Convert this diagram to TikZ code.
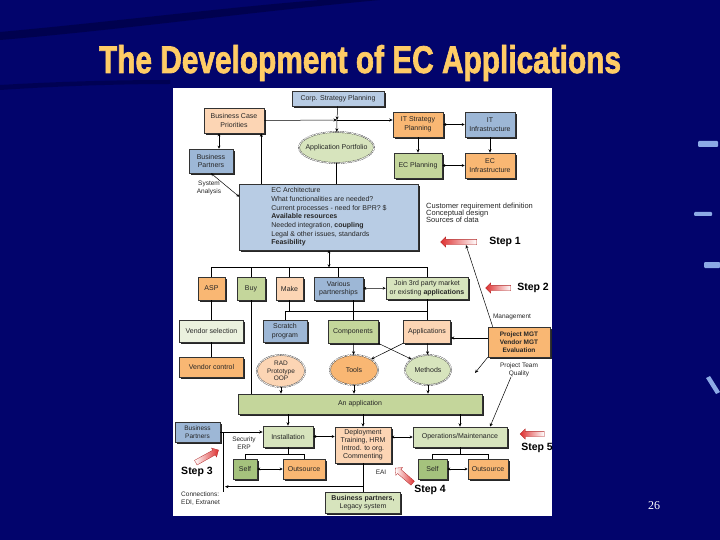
\documentclass[tikz,border=0pt]{standalone}
\usepackage{fontspec}
\setmainfont{Liberation Sans}
\newfontfamily\titlefont[BoldFeatures={FakeBold=2}]{Liberation Sans}
\newfontfamily\numfont{Liberation Serif}
\usetikzlibrary{shapes.geometric,shapes.arrows,shadows,arrows.meta}

\definecolor{slidenavy}{RGB}{2,4,108}
\definecolor{slidedark}{RGB}{0,0,60}
\definecolor{titlegold}{RGB}{255,204,102}
\definecolor{barblue}{RGB}{140,170,230}
\definecolor{boxgrey}{RGB}{184,204,228}
\definecolor{boxblue}{RGB}{157,183,214}
\definecolor{boxorange}{RGB}{249,183,115}
\definecolor{boxpeach}{RGB}{252,213,180}
\definecolor{boxgreen}{RGB}{196,214,155}
\definecolor{boxpale}{RGB}{215,228,189}
\definecolor{boxmint}{RGB}{235,241,222}
\definecolor{boxself}{RGB}{165,194,125}
\definecolor{stepred}{RGB}{222,48,48}

\begin{document}
\begin{tikzpicture}[x=1pt,y=-1pt,
    every node/.style={font=\fontsize{7}{8.5}\selectfont,text=black!85},
    box/.style={draw=black!80,line width=0.6pt,align=center,inner sep=1pt,
      drop shadow={shadow xshift=1.7pt,shadow yshift=-1.7pt,fill=black!85,opacity=1}},
    oval/.style={ellipse,draw=black!80,line width=0.4pt,double distance=0.8pt,
      dash pattern=on 1.6pt off 0.8pt,align=center,inner sep=0pt},
    link/.style={-{Stealth[length=3.5pt,width=3pt]},line width=0.5pt},
    both/.style={{Stealth[length=3pt,width=3pt]}-{Stealth[length=3pt,width=3pt]},line width=0.5pt},
    note/.style={font=\fontsize{6.5}{7.5}\selectfont,align=center,inner sep=0pt},
    steptext/.style={font=\fontsize{10.5}{12}\bfseries\selectfont,text=black,inner sep=0pt},
    steparrow/.style={single arrow,draw=stepred!80!black,line width=0.3pt,
      minimum height=#1,minimum width=0pt,single arrow head extend=2.5pt,inner sep=2.5pt}]

% slide
\fill[slidenavy] (0,0) rectangle (720,540);
\fill[slidedark,opacity=0.6] (0,40) .. controls (120,30) and (250,12) .. (380,0)
  -- (320,0) .. controls (220,8) and (110,22) .. (0,32) -- cycle;
\fill[slidedark,opacity=0.5] (0,90) .. controls (60,86) and (120,84) .. (170,84)
  -- (170,80) .. controls (110,80) and (50,82) .. (0,85) -- cycle;
\fill[barblue,rounded corners=1pt] (698,141) rectangle (718,147);
\fill[barblue,rounded corners=1pt] (694,212) rectangle (712,216);
\fill[barblue,rounded corners=1pt] (704,262) rectangle (720,268);
\fill[barblue] (706,378) -- (710,376) -- (720,392) -- (716,394) -- cycle;
\node[anchor=base,text=titlegold,inner sep=0pt] (title) at (360,73)
  {\resizebox{522pt}{28pt}{\titlefont\bfseries The Development of EC Applications}};
\node[text=white,font=\numfont\fontsize{12}{14}\selectfont] (pageno) at (654,506) {26};
\fill[white] (173,88) rectangle (552,516);

% planning
\node[box,fill=boxgrey,minimum width=92,minimum height=15] (corp) at (338,98.5) {Corp. Strategy Planning};
\node[box,fill=boxpeach,minimum width=60,minimum height=25] (bcp) at (234,120.5) {Business Case\\Priorities};
\node[box,fill=boxorange,minimum width=50,minimum height=25] (itsp) at (418,124.5) {IT Strategy\\Planning};
\node[box,fill=boxblue,minimum width=50,minimum height=25] (itinf) at (490,124.5) {IT\\Infrastructure};
\node[oval,fill=boxpale,minimum width=75,minimum height=31] (portf) at (336.5,147.5) {\makebox[0pt]{Application Portfolio}};
\node[box,fill=boxblue,minimum width=44,minimum height=24] (bpt) at (211,161) {Business\\Partners};
\node[box,fill=boxgreen,minimum width=48,minimum height=25] (ecplan) at (418,165.5) {EC Planning};
\node[box,fill=boxorange,minimum width=50,minimum height=25] (ecinf) at (490,165.5) {EC\\Infrastructure};
\node[box,fill=boxgrey,minimum width=179,minimum height=66,align=left,font=\fontsize{7}{8.7}\selectfont] (ecarch) at (329,217)
  {EC Architecture\\What functionalities are needed?\\Current processes - need for BPR? \$\\
   \textbf{Available resources}\\Needed integration, \textbf{coupling}\\Legal \& other issues, standards\\\textbf{Feasibility}};
\coordinate (j1) at (337,120);
\coordinate (creq) at (466,245);
\coordinate (pfree) at (475,373);

% sourcing options
\node[box,fill=boxorange,minimum width=27,minimum height=23] (asp) at (211.5,288.5) {ASP};
\node[box,fill=boxgreen,minimum width=28,minimum height=23] (buy) at (251,288.5) {Buy};
\node[box,fill=boxpeach,minimum width=27,minimum height=23] (make) at (289.5,288.5) {Make};
\node[box,fill=boxblue,minimum width=49,minimum height=23] (various) at (338.5,288.5) {Various\\partnerships};
\node[box,fill=boxpale,minimum width=82,minimum height=22] (join) at (427,288) {Join 3rd party market\\or existing \textbf{applications}};
\node[box,fill=boxmint,minimum width=64,minimum height=22] (vsel) at (211.5,331) {Vendor selection};
\node[box,fill=boxblue,minimum width=44,minimum height=22] (scratch) at (285,331) {Scratch\\program};
\node[box,fill=boxgreen,minimum width=50,minimum height=23] (comp) at (353,331.5) {Components};
\node[box,fill=boxpeach,minimum width=47,minimum height=23] (appl) at (427,331.5) {Applications};
\node[box,fill=boxorange,minimum width=62,minimum height=30,font=\fontsize{6.5}{8}\bfseries\selectfont] (pmgt) at (519,342) {Project MGT\\Vendor MGT\\Evaluation};
\node[box,fill=boxorange,minimum width=64,minimum height=20] (vctl) at (211.5,367) {Vendor control};
\node[oval,fill=boxpeach,minimum width=48,minimum height=32,font=\fontsize{6.5}{7.3}\selectfont] (rad) at (281,371) {RAD\\Prototype\\OOP};
\node[oval,fill=boxorange,minimum width=48,minimum height=30] (tools) at (354,370) {Tools};
\node[oval,fill=boxpale,minimum width=46,minimum height=30] (methods) at (428,370) {Methods};
\node[box,fill=boxgreen,minimum width=244,minimum height=20] (anapp) at (360,404) {An application};

% implementation
\node[box,fill=boxblue,minimum width=45,minimum height=20,font=\fontsize{6.5}{7.5}\selectfont] (bpb) at (197.5,432) {Business\\Partners};
\node[box,fill=boxpale,minimum width=50,minimum height=21] (inst) at (288,436.5) {Installation};
\node[box,fill=boxpeach,minimum width=56,minimum height=36,font=\fontsize{7}{8}\selectfont] (depl) at (363,445) {Deployment\\Training, HRM\\Introd. to org.\\Commenting};
\node[box,fill=boxpale,minimum width=94,minimum height=20] (ops) at (460,437) {Operations/Maintenance};
\node[box,fill=boxself,minimum width=24,minimum height=20] (selfa) at (245,469) {Self};
\node[box,fill=boxorange,minimum width=42,minimum height=20] (outa) at (304,469) {Outsource};
\node[box,fill=boxself,minimum width=29,minimum height=20] (selfb) at (432.5,469) {Self};
\node[box,fill=boxorange,minimum width=40,minimum height=20] (outb) at (488,469) {Outsource};
\node[box,fill=boxpale,minimum width=75,minimum height=21] (legacy) at (363,502.5) {\textbf{Business partners,}\\Legacy system};

% notes
\node[note] (sysan) at (209,188) {System\\Analysis};
\node[note,align=left,anchor=north west,font=\fontsize{7.5}{7}\selectfont] (custreq) at (426,203)
  {Customer requirement definition\\Conceptual design\\Sources of data};
\node[note] (mgmt) at (512,317) {Management};
\node[note] (ptq) at (519,370) {Project Team\\Quality};
\node[note] (secu) at (244,443) {Security\\ERP};
\node[note] (eai) at (381,472) {EAI};
\node[note,align=left,anchor=north west] (conn) at (181,492) {Connections:\\EDI, Extranet};

% steps
\node[steparrow=36pt,shape border rotate=180,left color=stepred,right color=white] (a1) at (460,242) {};
\node[steparrow=25pt,shape border rotate=180,left color=stepred,right color=white] (a2) at (499.5,288) {};
\node[steparrow=26pt,rotate=29,left color=white,right color=stepred] (a3) at (206,457) {};
\node[steparrow=23pt,rotate=139,left color=white,right color=stepred] (a4) at (405,476.5) {};
\node[steparrow=24pt,shape border rotate=180,left color=stepred,right color=white] (a5) at (533.5,434) {};
\node[steptext] (s1) at (505,242) {Step 1};
\node[steptext] (s2) at (533,288) {Step 2};
\node[steptext] (s3) at (197,472) {Step 3};
\node[steptext] (s4) at (430,490) {Step 4};
\node[steptext] (s5) at (537,448) {Step 5};

% planning links
\draw[link] (corp) -- (j1);
\draw[link] (j1) -- (portf);
\draw[link] (bcp.east) -- (j1);
\draw[link] (j1) -- (j1 -| itsp.west);
\draw[both] (itsp) -- (itinf);
\draw[link] (itsp) -- (ecplan);
\draw[link] (itinf) -- (ecinf);
\draw[both] (ecplan) -- (ecinf);
\draw[both] ([xshift=8pt]bpt.north) -- ([xshift=8pt]bpt.north |- bcp.south);
\draw[link] ([xshift=-3pt]bcp.south east |- ecarch.north) -- ([xshift=-3pt]bcp.south east);
\draw (portf) -- (portf.south |- ecarch.north);
\draw[both] (bpt.south) -- ([yshift=-13pt]ecarch.north west);

% sourcing links
\draw[both] (ecarch.south) -- ++(0,17);
\draw (asp.north) -- ++(0,-10) -| (join.north);
\foreach \n in {buy,make,various} \draw (\n.north) -- ++(0,-10);
\draw[both] (various) -- (join);
\draw (asp) -- (vsel);
\draw (vsel) -- (vctl);
\draw (buy.south) -- (buy.south |- anapp.north);
\draw (make.south) -- ++(0,11);
\draw (scratch.north) -- ++(0,-9) -| (appl.north);
\draw (join.south) -- ++(0,12);
\draw ([xshift=14.5pt]various.south) -- (comp.north);
\draw[link] (comp) -- (tools);
\draw[link] (appl) -- (methods);
\draw[link] (comp.south east) -- (methods.north west);
\draw[link] (appl.south west) -- (tools.north east);
\draw[link] ([yshift=4pt]pmgt.west) -- ([yshift=4pt]pmgt.west -| appl.east);
\draw[link] (pmgt.south west) -- (pfree);
\draw[link] ([xshift=5pt]pmgt.north west) -- (creq);
\foreach \n in {rad,tools,methods} \draw[link] (\n.south) -- (\n.south |- anapp.north);

% implementation links
\foreach \n in {inst,depl,ops} \draw[link] (anapp.south -| \n.north) -- (\n.north);
\draw[link] ([xshift=-8pt]ptq.south) -- ([xshift=30pt]ops.north);
\draw[link] (bpb.east) -- (bpb.east -| inst.west);
\draw[both] (inst.east) -- (inst.east -| depl.west);
\draw[both] (ops.west) -- (ops.west -| depl.east);
\draw ([xshift=3pt]bpb.east) -- ([xshift=3pt]bpb.east |- legacy.north);
\draw (depl) -- (legacy);
\draw[link] ([yshift=5pt]legacy.north) -- ++(-138,0);
\draw (inst.south) -- ++(0,7);
\draw (selfa.north) -- ++(0,-5) -| (outa.north);
\draw[both] (selfa) -- (outa);
\draw (ops.south) -- ++(0,7);
\draw (selfb.north) -- ++(0,-5) -| (outb.north);
\draw[both] (selfb) -- (outb);
\end{tikzpicture}
\end{document}
